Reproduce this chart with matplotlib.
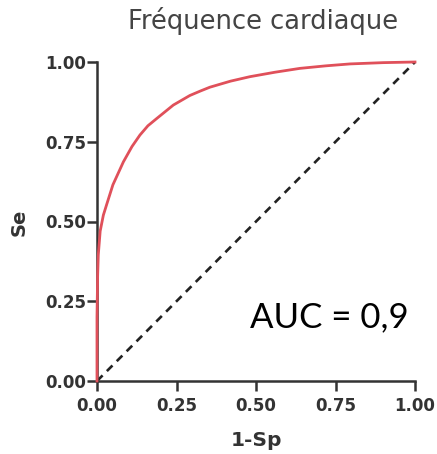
import matplotlib
matplotlib.use("Agg")
import matplotlib.pyplot as plt

# Data
fpr = [0.0, 0.0, 0.002, 0.004, 0.01, 0.02, 0.03, 0.05, 0.083, 0.11, 0.135, 0.16, 0.188,
       0.24, 0.292, 0.325, 0.355, 0.42, 0.481, 0.56, 0.638, 0.72, 0.796, 0.9, 1.0]
tpr = [0.0, 0.2, 0.33, 0.395, 0.47, 0.52, 0.552, 0.615, 0.687, 0.735, 0.771, 0.8, 0.823,
       0.865, 0.895, 0.909, 0.921, 0.94, 0.954, 0.968, 0.980, 0.988, 0.994, 0.998, 1.0]
diag = [0.0, 1.0]
ticks = [0.0, 0.25, 0.5, 0.75, 1.0]
tick_labels = ["0.00", "0.25", "0.50", "0.75", "1.00"]

title = "Fréquence cardiaque"
xlabel = "1-Sp"
ylabel = "Se"
auc_text = "AUC = 0,9"

W, H = 437, 454
fig = plt.figure(figsize=(W / 100, H / 100), dpi=100)
ax = fig.add_axes([97 / W, 1 - 381 / H, 318 / W, 319 / H])

ax.plot(diag, diag, color="#222222", lw=1.9, ls=(0, (3.0, 2.3)), zorder=2, clip_on=False)
ax.plot(fpr, tpr, color="#e0505a", lw=2.0, zorder=3, clip_on=False)

ax.set_xlim(0, 1)
ax.set_ylim(0, 1)
ax.set_xticks(ticks)
ax.set_yticks(ticks)
font = "DejaVu Sans"
ax.set_xticklabels(tick_labels, fontfamily=font, fontweight="bold", fontsize=12, color="#333333")
ax.set_yticklabels(tick_labels, fontfamily=font, fontweight="bold", fontsize=12, color="#333333")
for s in ["top", "right"]:
    ax.spines[s].set_visible(False)
for s in ["left", "bottom"]:
    ax.spines[s].set_linewidth(1.8)
    ax.spines[s].set_color("#333333")
ax.tick_params(axis="both", direction="out", length=7, width=1.8, color="#333333")
ax.tick_params(axis="x", pad=4.5)
ax.tick_params(axis="y", pad=1.0)

fig.text(263 / W, 1 - 21 / H, title, ha="center", va="center", fontfamily=font,
         fontsize=18.5, color="#444444")
fig.text(256 / W, 1 - 440 / H, xlabel, ha="center", va="center", fontfamily=font,
         fontweight="bold", fontsize=14.5, color="#333333")
fig.text(19 / W, 1 - 222 / H, ylabel, ha="center", va="center", rotation=90,
         fontfamily=font, fontweight="bold", fontsize=14, color="#333333")

ax.text(0.98, 0.2, auc_text, transform=ax.transAxes, ha="right", va="center",
        fontfamily="Lato", fontsize=25, color="black")

fig.savefig("out.png", dpi=100, facecolor="white")
